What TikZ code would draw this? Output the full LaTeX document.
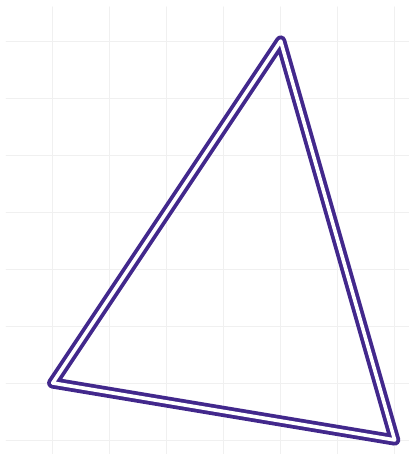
\documentclass[tikz,border=0pt]{standalone}
\usepackage{xcolor}

\definecolor{trianglepurple}{RGB}{66,40,140}

\begin{document}
\begin{tikzpicture}[line cap=round, line join=round]

% --- Stijlen ---
\tikzset{
    gridline/.style={
        draw=gray!12,
        line width=0.4pt
    },
    doubleedge/.style={
        draw=trianglepurple,
        line width=1.9pt,
        double=white,
        double distance=1.8pt
    }
}

% --- Vaste afmetingen ---
\useasboundingbox (-0.925,-0.246) rectangle (6.25,7.72);

% --- Raster op de achtergrond ---
\draw[gridline] (-0.82,-0.3) grid (6.3,7.6);

% --- Hoekpunten van de driehoek ---
\coordinate (links) at (0,1);
\coordinate (top) at (4,7);
\coordinate (rechts) at (6,0);

% --- Dubbele rand ---
\draw[doubleedge] (links) -- (top) -- (rechts) -- cycle;

\end{tikzpicture}
\end{document}
